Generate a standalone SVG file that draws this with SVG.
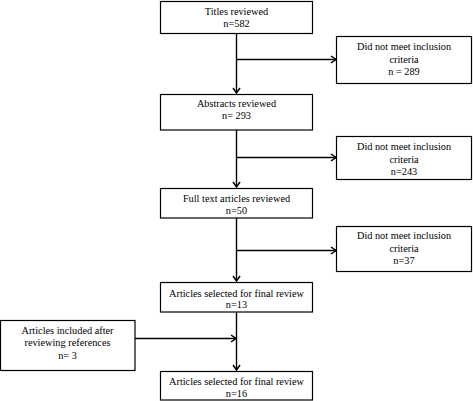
<svg xmlns="http://www.w3.org/2000/svg" width="473" height="401" viewBox="0 0 473 401" font-family="'Liberation Serif', 'DejaVu Serif', 'Times New Roman', serif">
<style>
.box{fill:#fff;stroke:#000;stroke-width:1.2}
text{font-family:'Liberation Serif','DejaVu Serif','Times New Roman',serif;font-size:10.3px;fill:#000;text-anchor:middle}
.ln{fill:none;stroke:#000;stroke-width:1.4}
</style>
<defs>
<marker id="ah" markerUnits="userSpaceOnUse" markerWidth="10" markerHeight="10" viewBox="0 0 10 10" refX="8" refY="5" orient="auto">
<path d="M3,1.5 L8,5 L3,8.5" fill="none" stroke="#000" stroke-width="1.5"/>
</marker>
</defs>
<g id="connectors">
<path class="ln" d="M236.5,33.5 V93" marker-end="url(#ah)"/>
<path class="ln" d="M236.5,59.5 H336" marker-end="url(#ah)"/>
<path class="ln" d="M236.5,130 V187" marker-end="url(#ah)"/>
<path class="ln" d="M236.5,157.5 H336" marker-end="url(#ah)"/>
<path class="ln" d="M236.5,218 V281" marker-end="url(#ah)"/>
<path class="ln" d="M236.5,250.5 H336" marker-end="url(#ah)"/>
<path class="ln" d="M236.5,312 V370" marker-end="url(#ah)"/>
<path class="ln" d="M135,338.5 H236" marker-end="url(#ah)"/>
</g>
<g id="titles">
<rect class="box" x="160.5" y="1.5" width="152" height="32"/>
<text x="236.5" y="14.5">Titles reviewed</text>
<text x="236.5" y="27">n=582</text>
</g>
<g id="excl1">
<rect class="box" x="336.5" y="36.5" width="135" height="47"/>
<text x="404" y="50">Did not meet inclusion</text>
<text x="404" y="62.5">criteria</text>
<text x="404" y="75">n = 289</text>
</g>
<g id="abstracts">
<rect class="box" x="160.5" y="94.5" width="152" height="35.5"/>
<text x="236.5" y="106.5">Abstracts reviewed</text>
<text x="236.5" y="118.5">n= 293</text>
</g>
<g id="excl2">
<rect class="box" x="336.5" y="136.5" width="135" height="43"/>
<text x="404" y="150">Did not meet inclusion</text>
<text x="404" y="162.5">criteria</text>
<text x="404" y="175">n=243</text>
</g>
<g id="fulltext">
<rect class="box" x="160.5" y="188.5" width="152" height="29.5"/>
<text x="236.5" y="201.5">Full text articles reviewed</text>
<text x="236.5" y="213.5">n=50</text>
</g>
<g id="excl3">
<rect class="box" x="336.5" y="226.5" width="135" height="45"/>
<text x="404" y="239">Did not meet inclusion</text>
<text x="404" y="251.5">criteria</text>
<text x="404" y="264">n=37</text>
</g>
<g id="selected13">
<rect class="box" x="160.5" y="282.5" width="152" height="29.5"/>
<text x="236.5" y="296.5">Articles selected for final review</text>
<text x="236.5" y="308">n=13</text>
</g>
<g id="refs">
<rect class="box" x="0.5" y="320.5" width="134.5" height="50"/>
<text x="67.5" y="333.5">Articles included after</text>
<text x="67.5" y="346">reviewing references</text>
<text x="67.5" y="358.5">n= 3</text>
</g>
<g id="selected16">
<rect class="box" x="160.5" y="371.5" width="152" height="28.5"/>
<text x="236.5" y="385">Articles selected for final review</text>
<text x="236.5" y="397">n=16</text>
</g>
</svg>
